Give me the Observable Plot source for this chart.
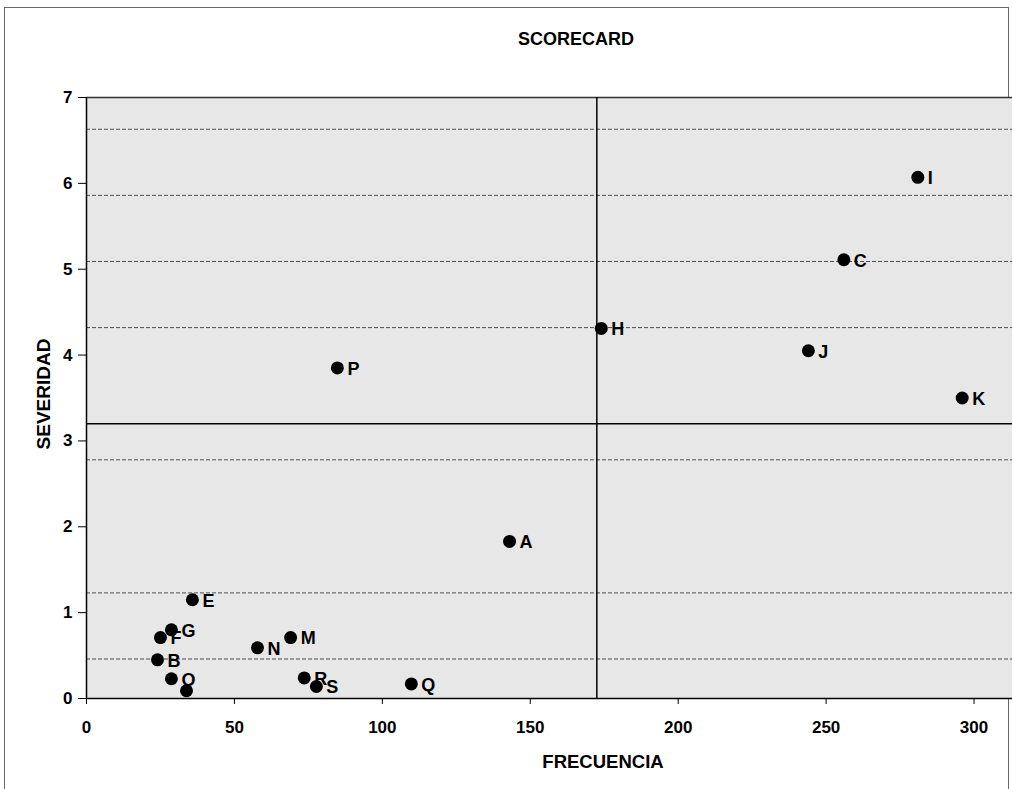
<!DOCTYPE html>
<html><head><meta charset="utf-8">
<script src="https://cdn.jsdelivr.net/npm/d3@7"></script>
<script src="https://cdn.jsdelivr.net/npm/@observablehq/plot@0.6"></script>
<style>
html,body{margin:0;padding:0;background:#fff;}
#wrap{position:relative;width:1012px;height:789px;overflow:hidden;font-family:"Liberation Sans",Arial,sans-serif;}
#border{position:absolute;left:4px;top:7px;width:1005px;height:800px;border:1px solid #666;box-sizing:border-box;}
#title{position:absolute;left:476px;width:200px;top:28px;text-align:center;font-weight:bold;font-size:18px;line-height:22px;}
#xlab{position:absolute;left:503px;width:200px;top:751px;text-align:center;font-weight:bold;font-size:18.5px;line-height:22px;}
#ylab{position:absolute;left:44px;top:394px;transform:translate(-50%,-50%) rotate(-90deg);font-weight:bold;font-size:19px;white-space:nowrap;}
#chart{position:absolute;left:0;top:0;}
</style></head>
<body><div id="wrap"><div id="border"></div><div id="chart"></div>
<div id="title">SCORECARD</div><div id="xlab">FRECUENCIA</div><div id="ylab">SEVERIDAD</div></div>
<script>
const labels = ["I","C","H","J","K","P","A","E","G","F","B","O","","N","M","R","S","Q"];
const frecuencia = [281,256,174,244,296,84.8,143,35.8,28.7,25,24,28.7,33.8,57.8,69,73.6,77.7,109.8];
const severidad = [6.07,5.11,4.31,4.05,3.5,3.85,1.83,1.15,0.8,0.71,0.45,0.23,0.09,0.59,0.71,0.24,0.14,0.17];
const xTicks = [0,50,100,150,200,250,300];
const yTicks = [0,1,2,3,4,5,6,7];
const gridY = [0.46,1.23,2.78,4.32,5.09,5.86,6.63];
const umbralX = [172.5];
const umbralY = [3.2];

const data = labels.map((l,i)=>({label:l, x:frecuencia[i], y:severidad[i]}));

const plot = Plot.plot({
  width:1012, height:789,
  marginTop:97, marginBottom:91, marginLeft:86, marginRight:0,
  style:{fontFamily:'"Liberation Sans",Arial,sans-serif', fontSize:"17px", fontWeight:"bold", color:"#000", background:"transparent"},
  x:{domain:[0,313], ticks:xTicks, label:null},
  y:{domain:[0,7], ticks:yTicks, label:null},
  marks:[
    Plot.frame({fill:"#e7e7e7", stroke:null}),
    Plot.ruleY(gridY, {stroke:"#333", strokeWidth:1, strokeDasharray:"4,2", strokeOpacity:0.85}),
    Plot.ruleY([7], {stroke:"#333", strokeWidth:1.5}),
    Plot.ruleX(umbralX, {stroke:"#000", strokeWidth:1.5}),
    Plot.ruleY(umbralY, {stroke:"#000", strokeWidth:1.5}),
    Plot.axisX({ticks:xTicks, tickSize:6, tickPadding:16, label:null, fontSize:17, fontWeight:"bold", tickFormat:d3.format("d")}),
    Plot.axisY({ticks:yTicks, tickSize:8, tickPadding:6, label:null, fontSize:17, fontWeight:"bold", tickFormat:d3.format("d")}),
    Plot.ruleX([0], {stroke:"#000", strokeWidth:1.5}),
    Plot.ruleY([0], {stroke:"#000", strokeWidth:1.5}),
    Plot.dot(data, {x:"x", y:"y", r:6.5, fill:"#000", stroke:null}),
    Plot.text(data, {x:"x", y:"y", text:"label", dx:10, dy:1, textAnchor:"start", fontSize:18, fontWeight:"bold", fill:"#000"})
  ]
});
document.getElementById("chart").appendChild(plot);
</script></body></html>
